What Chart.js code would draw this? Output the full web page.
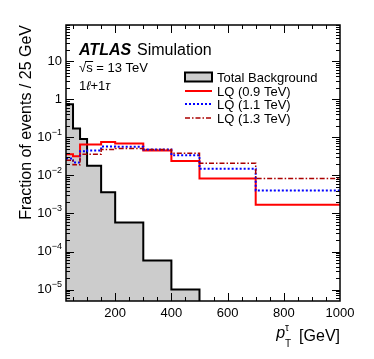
<!DOCTYPE html>
<html>
<head>
<meta charset="utf-8">
<script src="https://cdn.jsdelivr.net/npm/chart.js@4"></script>
<style>
  html, body { margin: 0; padding: 0; background: #fff; }
  canvas { display: block; }
</style>
</head>
<body>
<canvas id="c" width="374" height="359" style="width:374px;height:359px"></canvas>
<script>
// bin edges in GeV (tau pT)
var binEdges = [25, 50, 75, 100, 150, 200, 300, 400, 500, 700, 1000];

// fraction of events per bin
var totalBackground = [0.74, 0.17, 0.09, 0.018, 0.0036, 5.8e-4, 5.8e-5, 1.0e-5, 0, 0];
var lq09 = [0.036, 0.032, 0.065, 0.065, 0.076, 0.069, 0.045, 0.024, 0.0083, 0.0017];
var lq11 = [0.028, 0.022, 0.043, 0.045, 0.058, 0.057, 0.048, 0.034, 0.015, 0.004];
var lq13 = [0.025, 0.019, 0.036, 0.036, 0.048, 0.051, 0.048, 0.038, 0.021, 0.0083];

var seriesLabels = ['Total Background', 'LQ (0.9 TeV)', 'LQ (1.1 TeV)', 'LQ (1.3 TeV)'];
var xTickLabels = [200, 400, 600, 800, 1000];
var yDecades = [-5, -4, -3, -2, -1, 0, 1];

var font = '"Liberation Sans", Arial, Helvetica, sans-serif';

// empty bins sit far below the axis so the histogram drops out of view
function toSteps(vals) {
    var pts = vals.map(function (v, i) {
        return { x: binEdges[i], y: v > 0 ? v : 1e-9 };
    });
    pts.push({ x: binEdges[binEdges.length - 1], y: pts[pts.length - 1].y });
    return pts;
}

function line(ctx, x1, y1, x2, y2) {
    ctx.beginPath();
    ctx.moveTo(x1, y1);
    ctx.lineTo(x2, y2);
    ctx.stroke();
}

var atlasDecor = {
    id: 'atlasDecor',
    afterDraw: function (chart) {
        var ctx = chart.ctx, a = chart.chartArea;
        var xs = chart.scales.x, ys = chart.scales.y;
        ctx.save();

        // frame
        ctx.strokeStyle = '#000';
        ctx.lineWidth = 1.5;
        ctx.strokeRect(a.left, a.top, a.right - a.left, a.bottom - a.top);

        // x ticks, inward on bottom and top
        ctx.lineWidth = 1;
        for (var v = 50; v < 1000; v += 50) {
            var px = Math.round(xs.getPixelForValue(v)) + 0.5;
            var len = v % 200 === 0 ? 8 : 4;
            line(ctx, px, a.bottom, px, a.bottom - len);
            line(ctx, px, a.top, px, a.top + len);
        }

        // y ticks, inward on left and right
        for (var n = -6; n <= 2; n++) {
            for (var k = 1; k <= 9; k++) {
                var val = k * Math.pow(10, n);
                if (val < ys.min || val > ys.max) continue;
                var py = Math.round(ys.getPixelForValue(val)) + 0.5;
                var l = k === 1 ? 8 : 4;
                line(ctx, a.left, py, a.left + l, py);
                line(ctx, a.right, py, a.right - l, py);
            }
        }

        // y tick labels 10^n
        ctx.fillStyle = '#000';
        ctx.textBaseline = 'middle';
        yDecades.forEach(function (d) {
            var py = ys.getPixelForValue(Math.pow(10, d));
            var right = a.left - 4;
            if (d === 0 || d === 1) {
                ctx.font = '13px ' + font;
                ctx.textAlign = 'right';
                ctx.fillText(d === 0 ? '1' : '10', right, py);
            } else {
                ctx.font = '9px ' + font;
                var ex = '\u2212' + (-d);
                var ew = ctx.measureText(ex).width;
                ctx.textAlign = 'left';
                ctx.fillText(ex, right - ew, py - 5);
                ctx.font = '13px ' + font;
                ctx.textAlign = 'right';
                ctx.fillText('10', right - ew, py);
            }
        });

        // y axis title
        ctx.save();
        ctx.translate(27, a.top);
        ctx.rotate(-Math.PI / 2);
        ctx.font = '16px ' + font;
        ctx.textAlign = 'right';
        ctx.textBaseline = 'middle';
        ctx.fillText('Fraction of events / 25 GeV', 0, 0);
        ctx.restore();

        // x axis title  p_T^tau [GeV]
        ctx.textBaseline = 'alphabetic';
        ctx.textAlign = 'right';
        ctx.font = '16px ' + font;
        ctx.fillText('[GeV]', a.right, 341);
        var gx = a.right - ctx.measureText('[GeV]').width - 14;
        ctx.font = '10px ' + font;
        ctx.textAlign = 'left';
        ctx.fillText('\u03c4', gx, 331);
        ctx.fillText('T', gx, 347);
        ctx.font = 'italic 16px ' + font;
        ctx.textAlign = 'right';
        ctx.fillText('p', gx, 338);

        // ATLAS label
        ctx.textAlign = 'left';
        ctx.font = 'bold italic 16px ' + font;
        ctx.fillText('ATLAS', 79, 55);
        ctx.font = '16px ' + font;
        ctx.fillText('Simulation', 137, 55);

        ctx.font = '13px ' + font;
        ctx.fillText('\u221as = 13 TeV', 79, 72);
        var sqw = ctx.measureText('\u221a').width;
        var sw = ctx.measureText('s').width;
        ctx.lineWidth = 1;
        line(ctx, 79 + sqw - 1, 61.5, 79 + sqw + sw + 0.5, 61.5);
        ctx.fillText('1', 79, 90);
        var x1 = 79 + ctx.measureText('1').width;
        ctx.font = 'italic 13px ' + font;
        ctx.fillText('\u2113', x1, 90);
        x1 += ctx.measureText('\u2113').width;
        ctx.font = '13px ' + font;
        ctx.fillText('+1', x1, 90);
        x1 += ctx.measureText('+1').width;
        ctx.font = 'italic 13px ' + font;
        ctx.fillText('\u03c4', x1, 90);

        // legend
        var ds = chart.data.datasets;
        var lx = 185, lw = 27, rows = [77, 91, 104, 118];
        ctx.font = '13px ' + font;
        ctx.textBaseline = 'middle';
        ds.forEach(function (d, i) {
            var ry = rows[i];
            if (d.fill) {
                ctx.fillStyle = d.backgroundColor;
                ctx.fillRect(lx, ry - 4.5, lw, 9);
                ctx.strokeStyle = d.borderColor;
                ctx.lineWidth = 2;
                ctx.setLineDash([]);
                ctx.strokeRect(lx, ry - 4.5, lw, 9);
            } else {
                ctx.strokeStyle = d.borderColor;
                ctx.lineWidth = d.borderWidth;
                ctx.setLineDash(d.borderDash || []);
                line(ctx, lx, ry, lx + lw, ry);
            }
            ctx.setLineDash([]);
            ctx.fillStyle = '#000';
            ctx.fillText(d.label, lx + lw + 5, ry + 1);
        });

        ctx.restore();
    }
};

new Chart(document.getElementById('c').getContext('2d'), {
    type: 'line',
    data: {
        datasets: [{
            label: seriesLabels[0],
            data: toSteps(totalBackground),
            stepped: true,
            fill: 'start',
            backgroundColor: '#cccccc',
            borderColor: '#000000',
            borderWidth: 2,
            order: 4
        }, {
            label: seriesLabels[1],
            data: toSteps(lq09),
            stepped: true,
            fill: false,
            borderColor: '#ff0000',
            borderWidth: 2,
            order: 3
        }, {
            label: seriesLabels[2],
            data: toSteps(lq11),
            stepped: true,
            fill: false,
            borderColor: '#0000ff',
            borderWidth: 2,
            borderDash: [2, 2],
            order: 2
        }, {
            label: seriesLabels[3],
            data: toSteps(lq13),
            stepped: true,
            fill: false,
            borderColor: '#aa0000',
            borderWidth: 1.5,
            borderDash: [5, 2, 1.5, 2],
            order: 1
        }]
    },
    options: {
        responsive: false,
        animation: false,
        layout: { padding: { top: 25, right: 34, left: 0, bottom: 0 } },
        elements: { point: { radius: 0 }, line: { tension: 0 } },
        plugins: { legend: { display: false }, tooltip: { enabled: false } },
        scales: {
            x: {
                type: 'linear',
                min: 25,
                max: 1000,
                grid: { display: false, drawTicks: false },
                border: { display: false },
                afterBuildTicks: function (s) {
                    s.ticks = xTickLabels.map(function (v) { return { value: v }; });
                },
                ticks: {
                    autoSkip: false,
                    maxRotation: 0,
                    padding: 5,
                    color: '#000',
                    font: { family: font, size: 13 },
                    callback: function (v) { return String(v); }
                },
                afterFit: function (s) { s.height = 58; }
            },
            y: {
                type: 'logarithmic',
                min: 5e-6,
                max: 90,
                grid: { display: false, drawTicks: false },
                border: { display: false },
                ticks: { display: false },
                afterFit: function (s) { s.width = 66; }
            }
        }
    },
    plugins: [atlasDecor]
});
</script>
</body>
</html>
